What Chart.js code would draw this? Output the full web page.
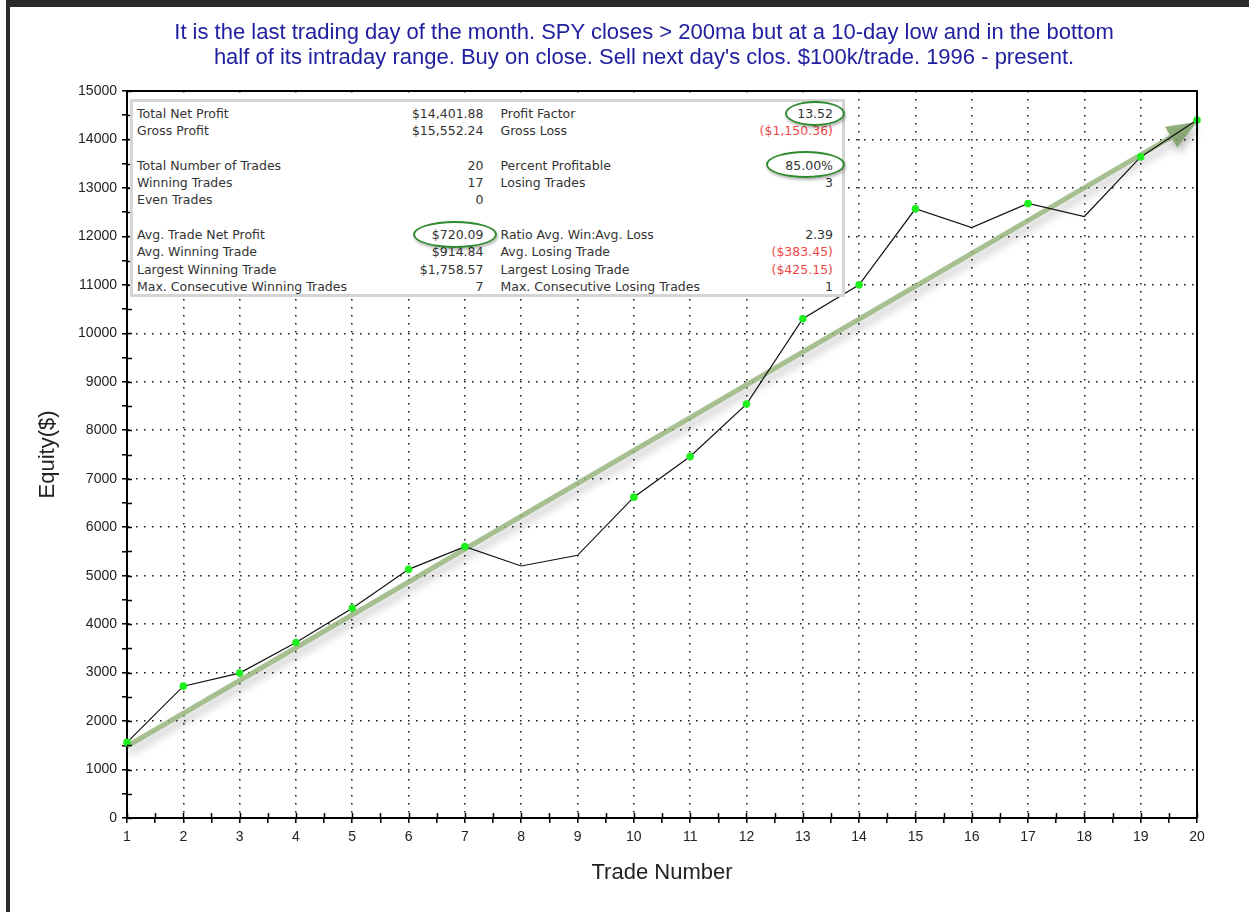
<!DOCTYPE html>
<html>
<head>
<meta charset="utf-8">
<script src="https://cdn.jsdelivr.net/npm/chart.js@4.4.1/dist/chart.umd.min.js"></script>
<style>
    html, body { margin: 0; padding: 0; background: #fff; }
    #wrap { position: relative; width: 1249px; height: 912px; overflow: hidden; }
    #frame { position: absolute; left: 6px; top: 0; width: 1260px; height: 930px; border-top: 7px solid #2a2a2a; border-left: 4px solid #2a2a2a; pointer-events: none; }
    #title { position: absolute; left: 0; top: 19px; width: 1288px; text-align: center;
             font-family: "Liberation Sans", Arial, sans-serif; font-size: 22px; line-height: 25px; color: #2020a0; }
    #stats { position: absolute; left: 130px; top: 99px; width: 715px; height: 198px; box-sizing: border-box;
             border: 3px solid #d4d4d4; background: #fff; padding: 3px 9px 0 4px;
             font-family: "DejaVu Sans", sans-serif; font-size: 12.5px; color: #333; }
    .row { display: flex; height: 17.3px; line-height: 17.3px; white-space: nowrap; }
    .l1 { width: 250px; } .v1 { width: 97px; text-align: right; }
    .l2 { width: 250px; margin-left: 17px; } .v2 { width: 83px; text-align: right; }
    .neg { color: #f04848; }
    .oval { position: absolute; border: 2px solid #2f8a2f; border-radius: 50%; box-shadow: 1px 2px 3px rgba(0,0,0,0.3); }
</style>
</head>
<body>
<div id="wrap">
    <canvas id="equityChart" width="1249" height="912"></canvas>
    <div id="title"></div>
    <div id="stats"></div>
    <div class="oval" style="left:785px; top:101px; width:56px; height:21px;"></div>
    <div class="oval" style="left:766px; top:151px; width:75px; height:23px;"></div>
    <div class="oval" style="left:413px; top:221px; width:80px; height:23px;"></div>
    <div id="frame"></div>
</div>
<script>
const trades = [1, 2, 3, 4, 5, 6, 7, 8, 9, 10, 11, 12, 13, 14, 15, 16, 17, 18, 19, 20];
const equity = [1560, 2720, 2990, 3620, 4330, 5130, 5600, 5200, 5420, 6620, 7460, 8540, 10300, 11000, 12570, 12180, 12680, 12410, 13640, 14400];
// green dots only on these trades (new equity highs in the picture)
const markedTrades = [1, 2, 3, 4, 5, 6, 7, 10, 11, 12, 13, 14, 15, 17, 19, 20];
// trend arrow, in data units
const arrowStart = { x: 1, y: 1480 };
const arrowEnd = { x: 20, y: 14360 };

const statLabelsLeft = ['Total Net Profit', 'Gross Profit', '', 'Total Number of Trades', 'Winning Trades', 'Even Trades', '', 'Avg. Trade Net Profit', 'Avg. Winning Trade', 'Largest Winning Trade', 'Max. Consecutive Winning Trades'];
const statValuesLeft = ['$14,401.88', '$15,552.24', '', '20', '17', '0', '', '$720.09', '$914.84', '$1,758.57', '7'];
const statLabelsRight = ['Profit Factor', 'Gross Loss', '', 'Percent Profitable', 'Losing Trades', '', '', 'Ratio Avg. Win:Avg. Loss', 'Avg. Losing Trade', 'Largest Losing Trade', 'Max. Consecutive Losing Trades'];
const statValuesRight = ['13.52', '($1,150.36)', '', '85.00%', '3', '', '', '2.39', '($383.45)', '($425.15)', '1'];

const titleLines = [
    'It is the last trading day of the month. SPY closes > 200ma but at a 10-day low and in the bottom',
    "half of its intraday range. Buy on close. Sell next day's clos. $100k/trade. 1996 - present."
];

// title (centred a bit right of the canvas middle, as in the picture)
const titleEl = document.getElementById('title');
titleLines.forEach(function(line) {
    const d = document.createElement('div');
    d.textContent = line;
    titleEl.appendChild(d);
});

// stats box
const statsEl = document.getElementById('stats');
statLabelsLeft.forEach(function(lab, i) {
    const row = document.createElement('div');
    row.className = 'row';
    const cells = [
        ['l1', lab], ['v1', statValuesLeft[i]],
        ['l2', statLabelsRight[i]], ['v2', statValuesRight[i]]
    ];
    cells.forEach(function(c) {
        const span = document.createElement('span');
        span.className = c[0] + (c[1].charAt(0) === '(' ? ' neg' : '');
        span.textContent = c[1];
        row.appendChild(span);
    });
    statsEl.appendChild(row);
});

const isMajor = v => Math.abs(v - Math.round(v / 1000) * 1000) < 1e-6;
const isWhole = v => Math.abs(v - Math.round(v)) < 1e-6;

const framePlugin = {
    id: 'framePlugin',
    beforeDatasetsDraw(chart) {
        const { ctx } = chart;
        const xs = chart.scales.x, ys = chart.scales.y;
        const x1 = xs.getPixelForValue(arrowStart.x), y1 = ys.getPixelForValue(arrowStart.y);
        const x2 = xs.getPixelForValue(arrowEnd.x), y2 = ys.getPixelForValue(arrowEnd.y);
        const ang = Math.atan2(y2 - y1, x2 - x1);
        const headLen = 30, headW = 12;
        const bx = x2 - headLen * Math.cos(ang), by = y2 - headLen * Math.sin(ang);
        ctx.save();
        ctx.shadowColor = 'rgba(0,0,0,0.3)';
        ctx.shadowBlur = 8;
        ctx.shadowOffsetX = 2;
        ctx.shadowOffsetY = 6;
        ctx.strokeStyle = 'rgba(145,178,120,0.8)';
        ctx.lineWidth = 5;
        ctx.lineCap = 'butt';
        ctx.beginPath();
        ctx.moveTo(x1, y1);
        ctx.lineTo(bx, by);
        ctx.stroke();
        ctx.fillStyle = 'rgba(125,160,100,0.85)';
        ctx.beginPath();
        ctx.moveTo(x2, y2);
        ctx.lineTo(bx + headW * Math.sin(ang), by - headW * Math.cos(ang));
        ctx.lineTo(bx - headW * Math.sin(ang), by + headW * Math.cos(ang));
        ctx.closePath();
        ctx.fill();
        ctx.restore();
    },
    afterDraw(chart) {
        const { ctx, chartArea } = chart;
        const xs = chart.scales.x, ys = chart.scales.y;
        ctx.save();
        ctx.strokeStyle = '#000';
        ctx.lineWidth = 1.5;
        // tick marks crossing into the plot
        ys.ticks.forEach(function(t) {
            const y = Math.round(ys.getPixelForValue(t.value)) + 0.5;
            ctx.beginPath();
            ctx.moveTo(chartArea.left, y);
            ctx.lineTo(chartArea.left + 5, y);
            ctx.stroke();
        });
        xs.ticks.forEach(function(t) {
            const x = Math.round(xs.getPixelForValue(t.value)) + 0.5;
            ctx.beginPath();
            ctx.moveTo(x, chartArea.bottom);
            ctx.lineTo(x, chartArea.bottom - 5);
            ctx.stroke();
        });
        // top and right edge of the plot box
        ctx.lineWidth = 2;
        ctx.beginPath();
        ctx.moveTo(chartArea.left, chartArea.top);
        ctx.lineTo(chartArea.right, chartArea.top);
        ctx.lineTo(chartArea.right, chartArea.bottom);
        ctx.stroke();
        ctx.restore();
    }
};

const ctx = document.getElementById('equityChart').getContext('2d');
const equityChart = new Chart(ctx, {
    type: 'line',
    data: {
        datasets: [{
            label: 'Equity',
            data: trades.map((t, i) => ({ x: t, y: equity[i] })),
            borderColor: '#111',
            borderWidth: 1.2,
            pointRadius: c => markedTrades.includes(trades[c.dataIndex]) ? 3.8 : 0,
            pointBackgroundColor: '#1ef01e',
            pointBorderWidth: 0,
            tension: 0,
            fill: false,
            clip: false
        }]
    },
    options: {
        responsive: false,
        animation: false,
        layout: { padding: { left: 10, right: 52, top: 91, bottom: 0 } },
        plugins: {
            legend: { display: false },
            tooltip: { enabled: false },
            title: { display: false }
        },
        scales: {
            x: {
                type: 'linear',
                min: 1,
                max: 20,
                afterFit: s => { s.height = 94; },
                afterBuildTicks: s => {
                    const ticks = [];
                    for (let v = 1; v <= 20; v += 0.5) ticks.push({ value: v });
                    s.ticks = ticks;
                },
                ticks: {
                    autoSkip: false,
                    maxRotation: 0,
                    padding: 6,
                    color: '#222',
                    font: { family: 'Liberation Sans', size: 14 },
                    callback: v => isWhole(v) ? String(v) : ''
                },
                grid: {
                    color: c => (c.tick && isWhole(c.tick.value)) ? '#222' : 'rgba(0,0,0,0)',
                    lineWidth: 1.6,
                    tickLength: 5,
                    tickColor: '#000',
                    tickWidth: 1.5
                },
                border: { display: true, color: '#000', width: 2, dash: [1.6, 6.4] },
                title: {
                    display: true,
                    text: 'Trade Number',
                    color: '#222',
                    font: { family: 'Liberation Sans', size: 22, lineHeight: 1.2 },
                    padding: { top: 0, bottom: 26 }
                }
            },
            y: {
                min: 0,
                max: 15000,
                afterFit: s => { s.width = 117; },
                ticks: {
                    stepSize: 500,
                    autoSkip: false,
                    padding: 5,
                    color: '#222',
                    font: { family: 'Liberation Sans', size: 14 },
                    callback: v => isMajor(v) ? String(v) : ''
                },
                grid: {
                    color: c => (c.tick && isMajor(c.tick.value)) ? '#222' : 'rgba(0,0,0,0)',
                    lineWidth: 1.6,
                    tickLength: 5,
                    tickColor: '#000',
                    tickWidth: 1.5
                },
                border: { display: true, color: '#000', width: 2, dash: [1.6, 6.4] },
                title: {
                    display: true,
                    text: 'Equity($)',
                    color: '#222',
                    font: { family: 'Liberation Sans', size: 22, lineHeight: 1.2 },
                    padding: { top: 25, bottom: 0 }
                }
            }
        }
    },
    plugins: [framePlugin]
});
</script>
</body>
</html>
